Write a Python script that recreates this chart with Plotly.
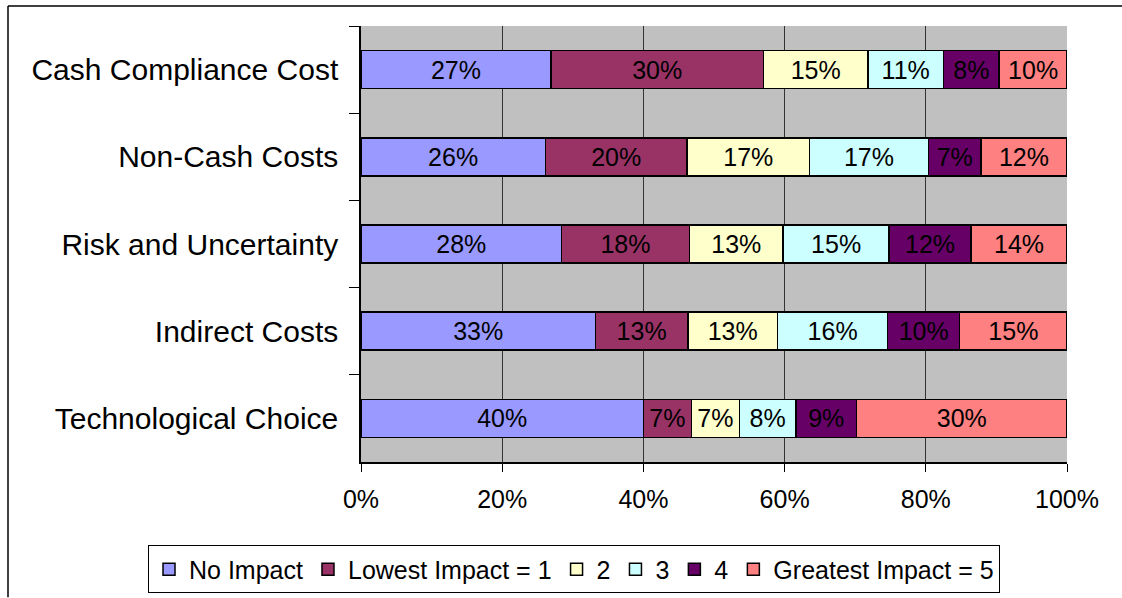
import plotly.graph_objects as go

# categories, top to bottom
categories = ["Cash Compliance Cost", "Non-Cash Costs", "Risk and Uncertainty",
              "Indirect Costs", "Technological Choice"]

# share of respondents (%) per impact level
no_impact = [26.9, 26.1, 28.4, 33.2, 40.0]
lowest_1 = [30.1, 20.1, 18.1, 13.1, 6.8]
level_2 = [14.8, 17.3, 13.3, 12.7, 6.8]
level_3 = [10.7, 16.9, 15.0, 15.6, 8.0]
level_4 = [7.9, 7.4, 11.6, 10.2, 8.6]
greatest_5 = [9.6, 12.2, 13.6, 15.2, 29.8]

series_names = ["No Impact", "Lowest Impact = 1", "2", "3", "4", "Greatest Impact = 5"]
series_values = [no_impact, lowest_1, level_2, level_3, level_4, greatest_5]
colors = ["#9999FF", "#993366", "#FFFFCC", "#CCFFFF", "#660066", "#FF8080"]

x_ticks = [0, 20, 40, 60, 80, 100]

FONT = "Arial, Liberation Sans, sans-serif"

# pixel -> paper helpers (plot area is 361..1067 x 26..462.5)
L, R, T, B = 361, 1067, 26, 462.5


def px_x(p):
    return (p - L) / (R - L)


def px_y(p):
    return (B - p) / (B - T)


fig = go.Figure()
for name, vals, col in zip(series_names, series_values, colors):
    fig.add_trace(go.Bar(
        y=categories,
        x=vals,
        name=name,
        orientation="h",
        marker=dict(color=col, line=dict(color="black", width=1.5)),
        text=vals,
        texttemplate="%{x:.0f}%",
        textposition="inside",
        insidetextanchor="middle",
        textangle=0,
        textfont=dict(family=FONT, size=25, color="black"),
        hoverinfo="skip",
    ))

fig.update_layout(
    width=1122,
    height=598,
    barmode="stack",
    bargap=0.565,
    plot_bgcolor="#C0C0C0",
    paper_bgcolor="white",
    margin=dict(l=L, r=1122 - R, t=T, b=598 - B, autoexpand=False),
    font=dict(family=FONT, size=25, color="black"),
    uniformtext=dict(minsize=25, mode="show"),
    legend=dict(
        orientation="h",
        x=px_x(148), xanchor="left",
        y=px_y(546), yanchor="top",
        bordercolor="black", borderwidth=1,
        bgcolor="white",
        font=dict(family=FONT, size=25, color="black"),
        traceorder="normal",
    ),
    showlegend=True,
)

fig.update_xaxes(
    range=[0, 100],
    tickvals=x_ticks,
    ticktext=[f"{t}%" for t in x_ticks],
    showgrid=True, gridcolor="#333333", gridwidth=1,
    showline=True, linecolor="black", linewidth=1.5,
    ticks="outside", ticklen=8, tickcolor="black",
    ticklabelstandoff=6,
    zeroline=False,
    tickfont=dict(family=FONT, size=25, color="black"),
)
fig.update_yaxes(
    autorange="reversed",
    showgrid=False,
    showline=True, linecolor="black", linewidth=1.5,
    ticks="outside", ticklen=10, tickcolor="black", tickson="boundaries",
    ticklabelstandoff=15,
    tickfont=dict(family=FONT, size=30, color="black"),
)

# outer chart border (top and left visible, rest cropped)
fig.add_shape(type="line", xref="paper", yref="paper",
              x0=px_x(8), x1=px_x(1122), y0=px_y(6), y1=px_y(6),
              line=dict(color="black", width=1.5))
fig.add_shape(type="line", xref="paper", yref="paper",
              x0=px_x(8), x1=px_x(8), y0=px_y(6), y1=px_y(598),
              line=dict(color="black", width=1.5))

# page has a default 8px body margin; drop it so the chart sits at 0,0
fig.write_html("out.html", config={"displayModeBar": False},
               post_script="document.body.style.margin='0';")
